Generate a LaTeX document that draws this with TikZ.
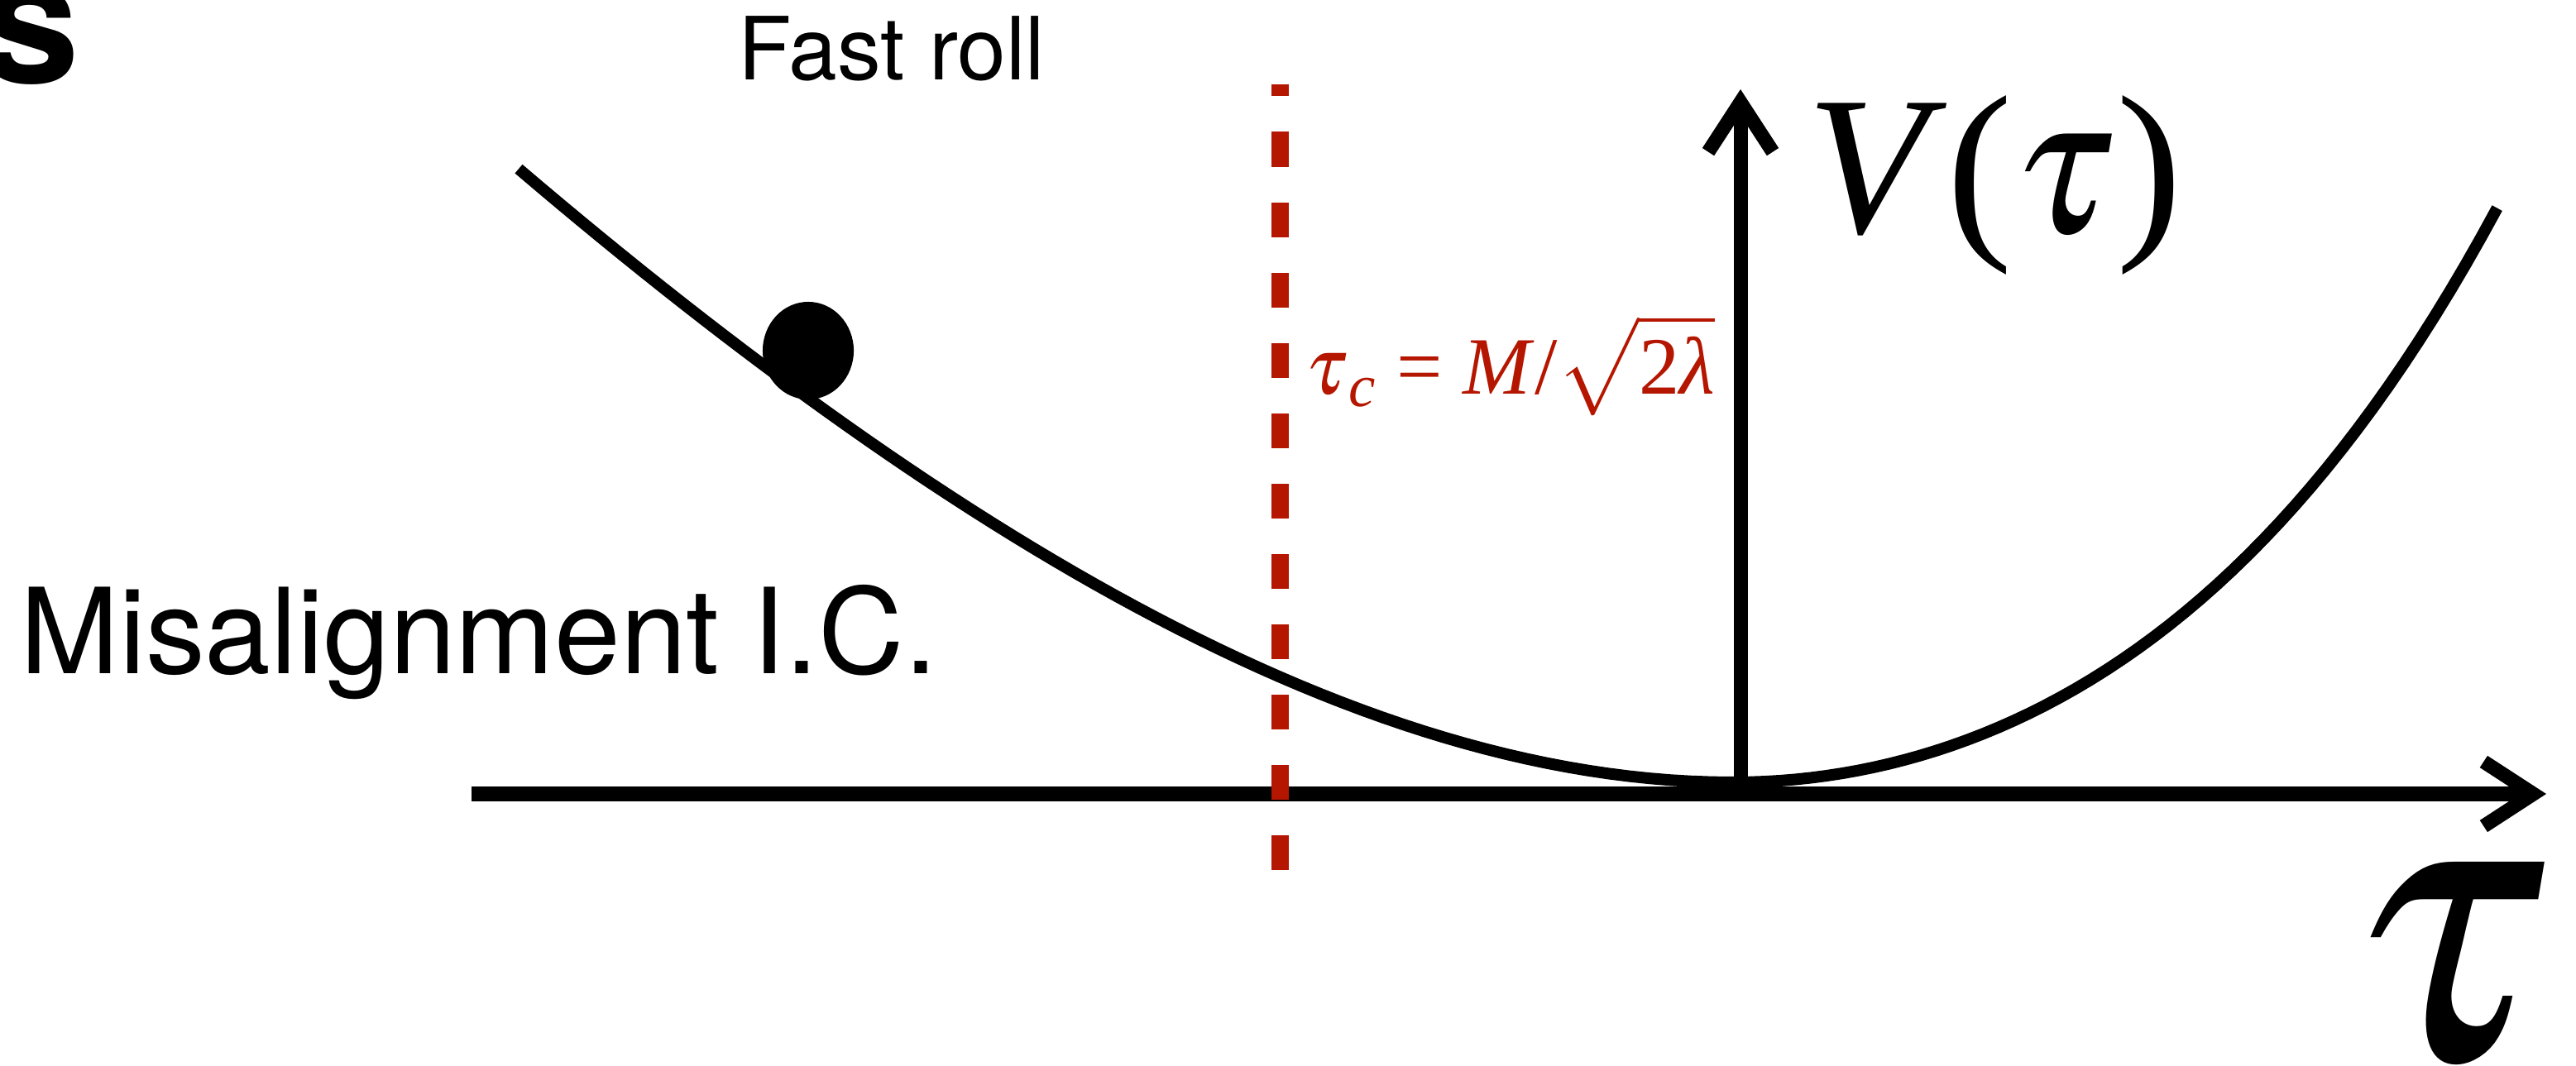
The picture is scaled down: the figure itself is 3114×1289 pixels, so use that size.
\RequirePackage{fix-cm}
\documentclass[tikz,border=0pt]{standalone}
\usepackage{mathptmx}
\usepackage[no-math]{fontspec}
\usetikzlibrary{arrows.meta}
\newfontfamily\helv{TeX Gyre Heros}
\newfontfamily\tnr{Liberation Serif}
\definecolor{critred}{RGB}{181,22,0}
\tikzset{
  axis/.style={line width=0.17cm,-{Straight Barb[length=0.6cm,width=0.78cm]}},
  pot/.style={line width=0.14cm},
  crit/.style={critred,line width=0.21cm,dash pattern=on 0.42cm off 0.43cm},
  lbl/.style={inner sep=0pt,anchor=base west},
}
\begin{document}
\begin{tikzpicture}[x=0.01cm,y=-0.01cm]
  \useasboundingbox (0,0) rectangle (3114,1289);
  \clip (0,0) rectangle (3114,1289);
  % axes
  \coordinate (o) at (2104,960);
  \coordinate (xstart) at (570,960);
  \coordinate (xend) at (3078,960);
  \coordinate (yend) at (2104,108);
  \draw[axis] (xstart) -- (xend);
  \draw[axis] (o) -- (yend);
  % tau_c line
  \coordinate (cbot) at (1547,1052);
  \coordinate (ctop) at (1547,102);
  \draw[crit] (cbot) -- (ctop);
  % the potential
  \draw[pot] plot[domain=1:0,samples=60] ({2095-1468*\x},{946-742*\x*\x*(1.408-0.504*\x+0.0957*\x*\x)})
    -- plot[domain=0:1,samples=50] ({2095+924*\x},{946-695*(0.764*\x*\x+0.236*\x*\x*\x*\x)});
  % ball
  \fill (977,424) ellipse [x radius=0.55cm,y radius=0.59cm];
  % labels
  \node[inner sep=0pt,anchor=base east] (sfrag) at (97,101) {\helv\bfseries\fontsize{61}{61}\selectfont s};
  \node[lbl] (fast) at (892,97) {\helv\fontsize{30}{36}\selectfont Fast roll};
  \node[lbl] (mis) at (24,815) {\helv\fontsize{40.8}{48}\selectfont Misalignment I.C.};
  \node[lbl] (vlab) at (2184,282) {\tnr\fontsize{68}{78}\selectfont\textit{V}($\tau$)};
  \node[lbl,text=critred] (tauc) at (1578,477) {\tnr\fontsize{28}{33}\selectfont$\tau$\textsubscript{\textit{c}} = \textit{M}/$\sqrt{\mbox{2\textit{λ}}\rule[-0.22em]{0pt}{1.02em}}$};
  \node[lbl] (taux) at (2836,1281) {\fontsize{136}{146}\selectfont$\tau$};
\end{tikzpicture}
\end{document}
